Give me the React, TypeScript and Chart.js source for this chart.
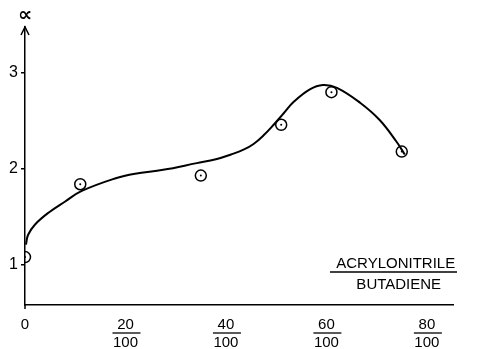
import React, { useEffect, useRef } from "react";
import { Chart, registerables } from "chart.js";

Chart.register(...registerables);

// Measured points (ratio ×100, α)
const pointX = [0, 11, 35, 51, 61, 75];
const pointY = [1.08, 1.84, 1.93, 2.46, 2.8, 2.18];

// Fitted curve
const curveX = [0.2, 0.6, 2, 4.6, 8, 11.3, 17.9, 21.9, 27.5, 34.2, 38, 41, 43.5, 45.5, 47.5, 49.5, 51.5, 53.5, 56.7, 59.3, 62.1, 66.7, 70.6, 74, 75.6];
const curveY = [1.21, 1.31, 1.42, 1.54, 1.66, 1.77, 1.9, 1.95, 1.99, 2.06, 2.1, 2.15, 2.2, 2.26, 2.35, 2.46, 2.58, 2.7, 2.83, 2.875, 2.845, 2.69, 2.51, 2.28, 2.15];

const xTicks = [0, 20, 40, 60, 80];
const xTickNumerators = ["0", "20", "40", "60", "80"];
const xTickDenominator = "100";
const yTicks = [1, 2, 3];
const yTitle = "∝";
const xTitleTop = "ACRYLONITRILE";
const xTitleBottom = "BUTADIENE";

const FONT = "'Liberation Sans', Arial, sans-serif";

const decorPlugin = {
  id: "decor",
  afterDraw(chart: any) {
    const ctx = chart.ctx;
    const { left, top, bottom, right } = chart.chartArea;
    const xs = chart.scales.x;
    ctx.save();
    ctx.strokeStyle = "#000";
    ctx.fillStyle = "#000";
    ctx.lineWidth = 1.5;
    // arrow head on y axis
    ctx.beginPath();
    ctx.moveTo(left - 4, top + 8);
    ctx.lineTo(left, top);
    ctx.lineTo(left + 4, top + 8);
    ctx.stroke();
    // small extension below origin
    ctx.beginPath();
    ctx.moveTo(left, bottom);
    ctx.lineTo(left, bottom + 4);
    ctx.stroke();
    // y title
    ctx.font = "bold 20px 'DejaVu Sans', sans-serif";
    ctx.textAlign = "center";
    ctx.textBaseline = "alphabetic";
    ctx.fillText(yTitle, left, top - 6);
    // fraction bars
    ctx.lineWidth = 1.3;
    xTicks.forEach((v, i) => {
      if (i === 0) return;
      const px = xs.getPixelForValue(v);
      ctx.beginPath();
      ctx.moveTo(px - 13, bottom + 28);
      ctx.lineTo(px + 15, bottom + 28);
      ctx.stroke();
    });
    // x title
    ctx.font = `15px ${FONT}`;
    ctx.textAlign = "center";
    const cx = xs.getPixelForValue(74);
    ctx.fillText(xTitleTop, cx - 1, bottom - 37);
    ctx.beginPath();
    ctx.moveTo(right - 123, bottom - 33);
    ctx.lineTo(right + 4, bottom - 33);
    ctx.stroke();
    ctx.fillText(xTitleBottom, cx + 2, bottom - 16);
    ctx.restore();
  },
};

export default function App() {
  const ref = useRef<HTMLCanvasElement | null>(null);
  useEffect(() => {
    document.body.style.margin = "0";
    const canvas = ref.current!;
    const chart = new Chart(canvas, {
      type: "scatter",
      data: {
        datasets: [
          {
            type: "line",
            data: curveX.map((x, i) => ({ x, y: curveY[i] })),
            borderColor: "#000",
            borderWidth: 2,
            pointRadius: 0,
            tension: 0.4,
            fill: false,
          } as any,
          {
            data: pointX.map((x, i) => ({ x, y: pointY[i] })),
            pointRadius: 5.5,
            pointBorderWidth: 1.5,
            pointBorderColor: "#000",
            pointBackgroundColor: "rgba(0,0,0,0)",
          },
          {
            data: pointX.map((x, i) => ({ x, y: pointY[i] })),
            pointRadius: 1,
            pointBorderWidth: 0,
            pointBackgroundColor: "#000",
          },
        ],
      },
      options: {
        animation: false,
        responsive: false,
        layout: { padding: { top: 27, right: 30, left: 0, bottom: 0 } },
        plugins: { legend: { display: false }, tooltip: { enabled: false } },
        scales: {
          x: {
            type: "linear",
            min: 0,
            max: 85.2,
            afterFit: (s: any) => { s.height = 44; },
            afterBuildTicks: (s: any) => { s.ticks = xTicks.map((v) => ({ value: v })); },
            grid: { display: false },
            border: { display: true, color: "#000", width: 1.5 },
            ticks: {
              color: "#000",
              padding: 3,
              font: { family: FONT, size: 15, lineHeight: 1.2 },
              callback: (v: any) => {
                const i = xTicks.indexOf(Number(v));
                if (i < 0) return "";
                return i === 0 ? xTickNumerators[i] : [xTickNumerators[i], xTickDenominator];
              },
            },
          },
          y: {
            type: "linear",
            min: 0.58,
            max: 3.48,
            afterFit: (s: any) => { s.width = 25; },
            afterBuildTicks: (s: any) => { s.ticks = yTicks.map((v) => ({ value: v })); },
            grid: { display: true, drawOnChartArea: false, drawTicks: true, tickLength: 4, color: "#000", lineWidth: 1.5 },
            border: { display: true, color: "#000", width: 1.5 },
            ticks: {
              color: "#000",
              padding: 3,
              font: { family: FONT, size: 16 },
              callback: (v: any) => String(v),
            },
          },
        },
      },
      plugins: [decorPlugin],
    });
    return () => chart.destroy();
  }, []);
  return <canvas ref={ref} width={483} height={349} style={{ display: "block" }} />;
}
